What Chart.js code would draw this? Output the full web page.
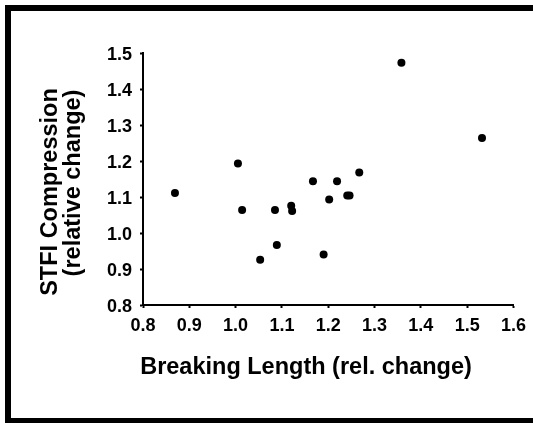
<!DOCTYPE html>
<html>
<head>
<meta charset="utf-8">
<script src="https://cdn.jsdelivr.net/npm/chart.js@4/dist/chart.umd.min.js"></script>
<style>
    html, body { margin: 0; padding: 0; background: #fff; overflow: hidden; }
    #wrap { position: relative; width: 533px; height: 423px; overflow: hidden; }
</style>
</head>
<body>
<div id="wrap"><canvas id="myChart" width="533" height="423"></canvas></div>
<script>
// breaking length vs. STFI compression, both as relative change
var breakingLength = [0.869, 1.005, 1.014, 1.053, 1.085, 1.089, 1.120, 1.122, 1.167, 1.190, 1.202, 1.219, 1.241, 1.246, 1.267, 1.358, 1.532];
var stfiCompression = [1.111, 1.193, 1.064, 0.926, 1.064, 0.967, 1.076, 1.061, 1.144, 0.940, 1.093, 1.144, 1.104, 1.104, 1.168, 1.473, 1.264];

var xTitle = 'Breaking Length (rel. change)';
var yTitle = ['STFI Compression', '(relative change)'];

var FONT = '"Liberation Sans", Arial, Helvetica, sans-serif';

var points = breakingLength.map((x, i) => ({ x: x, y: stfiCompression[i] }));

// frame around the figure and the axis titles
var decor = {
    id: 'decor',
    afterDraw(chart) {
        var ctx = chart.ctx;
        ctx.save();
        ctx.fillStyle = '#000';
        ctx.fillRect(5, 5, 600, 6);
        ctx.fillRect(5, 5, 6, 420);
        ctx.fillRect(5, 418, 600, 10);

        ctx.font = 'bold 23.5px ' + FONT;
        ctx.textAlign = 'center';
        ctx.textBaseline = 'alphabetic';
        ctx.fillText(xTitle, 306, 374);

        ctx.textBaseline = 'middle';
        ctx.save();
        ctx.translate(51, 192);
        ctx.rotate(-Math.PI / 2);
        ctx.fillText(yTitle[0], 0, 0);
        ctx.restore();
        ctx.save();
        ctx.translate(74, 183);
        ctx.rotate(-Math.PI / 2);
        ctx.fillText(yTitle[1], 0, 0);
        ctx.restore();
        ctx.restore();
    }
};

var axisGrid = {
    display: true,
    drawOnChartArea: false,
    drawTicks: true,
    tickLength: 3,
    tickWidth: 2,
    color: '#000'
};

document.addEventListener('DOMContentLoaded', () => {
    var ctx = document.getElementById('myChart').getContext('2d');
    var chart = new Chart(ctx, {
        type: 'scatter',
        data: {
            datasets: [{
                data: points,
                backgroundColor: '#000',
                borderColor: '#000',
                borderWidth: 0,
                pointRadius: 4,
                pointHoverRadius: 4
            }]
        },
        options: {
            responsive: false,
            animation: false,
            layout: {
                padding: { left: 0, top: 53, right: 19, bottom: 0 }
            },
            plugins: {
                legend: { display: false },
                tooltip: { enabled: false }
            },
            scales: {
                x: {
                    type: 'linear',
                    min: 0.8,
                    max: 1.6,
                    grid: axisGrid,
                    border: { display: true, color: '#000', width: 2 },
                    ticks: {
                        stepSize: 0.1,
                        padding: 7,
                        color: '#000',
                        font: { family: FONT, size: 18, weight: 'bold' },
                        callback: v => v.toFixed(1)
                    },
                    afterFit: scale => { scale.height = 118; }
                },
                y: {
                    type: 'linear',
                    min: 0.8,
                    max: 1.5,
                    grid: axisGrid,
                    border: { display: true, color: '#000', width: 2 },
                    ticks: {
                        stepSize: 0.1,
                        padding: 8,
                        labelOffset: 2,
                        color: '#000',
                        font: { family: FONT, size: 18, weight: 'bold' },
                        callback: v => v.toFixed(1)
                    },
                    afterFit: scale => { scale.width = 143; }
                }
            }
        },
        plugins: [decor]
    });
});
</script>
</body>
</html>
